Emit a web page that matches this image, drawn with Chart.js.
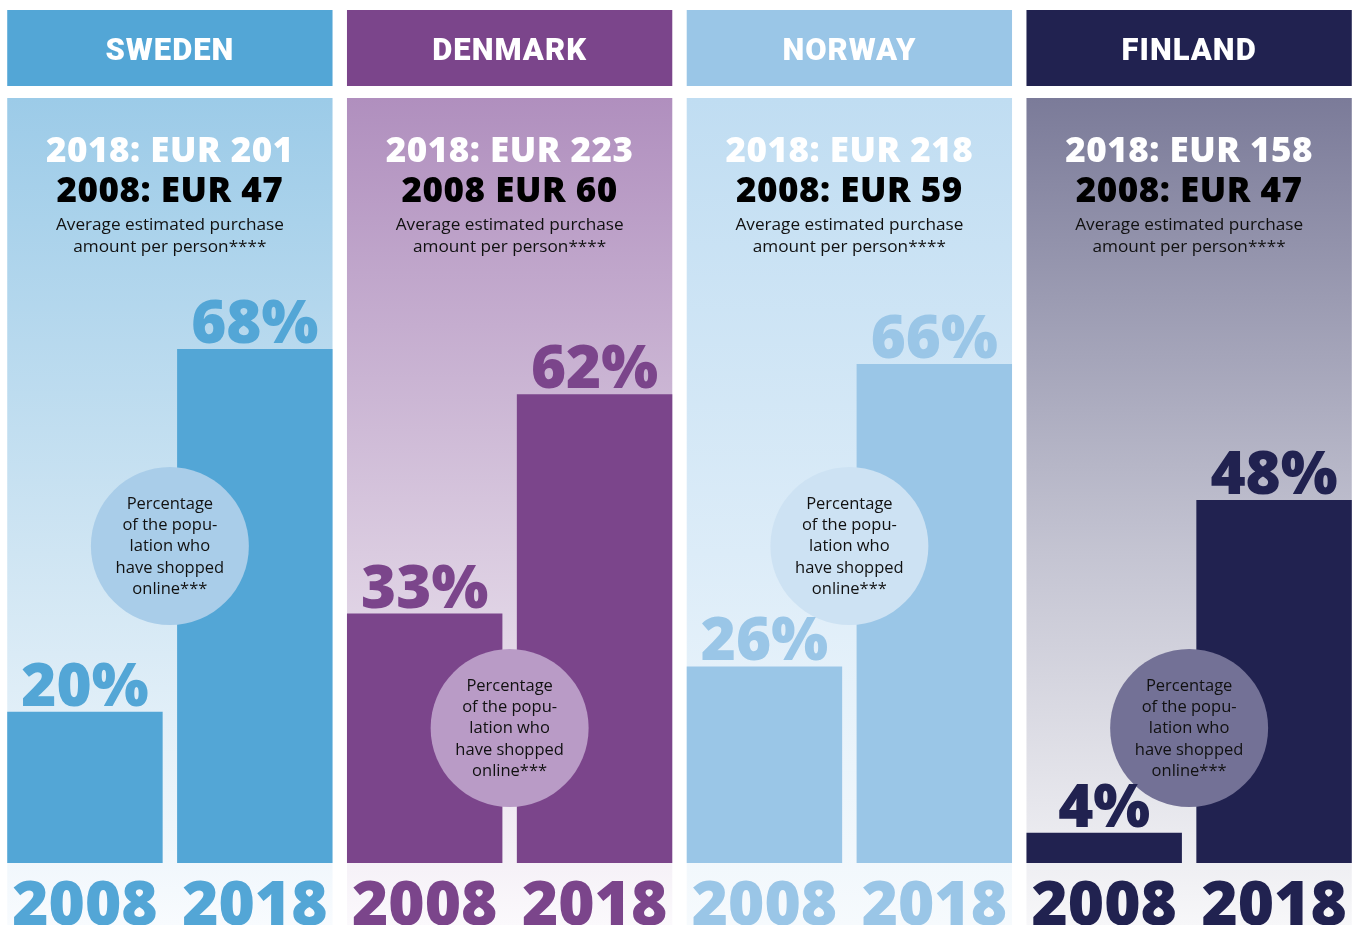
<!DOCTYPE html>
<html>
<head>
<meta charset="utf-8">
<script src="https://cdn.jsdelivr.net/npm/chart.js@4"></script>
<style>
  html, body { margin: 0; padding: 0; background: #ffffff; }
  #wrap { width: 1359px; height: 925px; position: relative; }
</style>
</head>
<body>
<div id="wrap"><canvas id="shopChart"></canvas></div>
<script>
const countries = ['SWEDEN', 'DENMARK', 'NORWAY', 'FINLAND'];
const years = ['2008', '2018'];
const shopped2008 = [20, 33, 26, 4];   // % of population who have shopped online
const shopped2018 = [68, 62, 66, 48];
const spend2018 = [201, 223, 218, 158]; // EUR per person
const spend2008 = [47, 60, 59, 47];
const spend2008Sep = [': ', ' ', ': ', ': '];  // Denmark line has no colon in the original

// colours per country
const barColors = ['#53a6d6', '#7b458b', '#9ac6e7', '#212250'];
const bgTop = ['#9ccbe8', '#b08fbe', '#c0ddf2', '#7b7b99'];
const bgMid = ['#cfe5f3', '#dacbe0', '#dcecf8', '#c4c4d2'];
const bgBottom = ['#f8fbfe', '#fbf9fc', '#f6fafd', '#f7f7f9'];
const bubbleColors = ['#a9cde9', '#b99bc6', '#cde2f3', '#737196'];

const bubbleLines = ['Percentage', 'of the popu-', 'lation who', 'have shopped', 'online***'];

const labels = countries.flatMap(() => years);
const values = countries.flatMap((c, i) => [shopped2008[i], shopped2018[i]]);
const colorFor = idx => barColors[Math.floor(idx / 2)];

const panelPlugin = {
    id: 'panels',
    beforeDraw(chart) {
        const ctx = chart.ctx;
        const bars = chart.getDatasetMeta(0).data;
        countries.forEach((name, i) => {
            const a = bars[i * 2], b = bars[i * 2 + 1];
            const left = a.x - a.width / 2;
            const right = b.x + b.width / 2;
            const cx = (left + right) / 2;

            // header block
            ctx.fillStyle = barColors[i];
            ctx.fillRect(left, 10, right - left, 76);
            ctx.fillStyle = '#ffffff';
            ctx.font = '900 31px Roboto';
            ctx.textAlign = 'center';
            ctx.textBaseline = 'alphabetic';
            ctx.letterSpacing = '1px';
            ctx.fillText(name, cx, 60);
            ctx.letterSpacing = '0px';

            // gradient background
            const g = ctx.createLinearGradient(0, 98, 0, 925);
            g.addColorStop(0, bgTop[i]);
            g.addColorStop(0.55, bgMid[i]);
            g.addColorStop(1, bgBottom[i]);
            ctx.fillStyle = g;
            ctx.fillRect(left, 98, right - left, 925 - 98);

            // spending figures
            ctx.font = '800 35px "Open Sans"';
            ctx.letterSpacing = '0.5px';
            ctx.fillStyle = '#ffffff';
            ctx.fillText('2018: EUR ' + spend2018[i], cx, 162);
            ctx.fillStyle = '#000000';
            ctx.fillText('2008' + spend2008Sep[i] + 'EUR ' + spend2008[i], cx, 202);
            ctx.letterSpacing = '0px';
            ctx.font = '17.2px "Open Sans"';
            ctx.fillStyle = '#111111';
            ctx.fillText('Average estimated purchase', cx, 230);
            ctx.fillText('amount per person****', cx, 252);
        });
    },
    afterDatasetsDraw(chart) {
        const ctx = chart.ctx;
        const bars = chart.getDatasetMeta(0).data;
        countries.forEach((name, i) => {
            const a = bars[i * 2], b = bars[i * 2 + 1];
            const cx = (a.x + b.x) / 2;
            const cy = i % 2 === 0 ? 546 : 728;
            ctx.fillStyle = bubbleColors[i];
            ctx.beginPath();
            ctx.arc(cx, cy, 79, 0, Math.PI * 2);
            ctx.fill();
            ctx.fillStyle = '#111111';
            ctx.font = '16.5px "Open Sans"';
            ctx.textAlign = 'center';
            ctx.textBaseline = 'middle';
            bubbleLines.forEach((line, k) => {
                ctx.fillText(line, cx, cy - 42 + k * 21.3);
            });
        });
        // percentage labels above bars
        ctx.font = '800 60px "Open Sans"';
        ctx.textAlign = 'center';
        ctx.textBaseline = 'alphabetic';
        bars.forEach((bar, idx) => {
            ctx.fillStyle = colorFor(idx);
            ctx.fillText(values[idx] + '%', bar.x, bar.y - 6);
        });
    }
};

new Chart(document.getElementById('shopChart'), {
    type: 'bar',
    data: {
        labels: labels,
        datasets: [{
            data: values,
            backgroundColor: values.map((v, idx) => colorFor(idx)),
            borderWidth: 0,
            barPercentage: 0.915,
            categoryPercentage: 1
        }]
    },
    options: {
        responsive: true,
        maintainAspectRatio: false,
        animation: false,
        layout: { padding: { top: 107, left: 0, right: 0, bottom: 0 } },
        plugins: {
            legend: { display: false },
            tooltip: { enabled: false }
        },
        scales: {
            x: {
                grid: { display: false },
                border: { display: false },
                ticks: {
                    padding: 5,
                    autoSkip: false,
                    maxRotation: 0,
                    font: { family: 'Open Sans', weight: 800, size: 62, lineHeight: 1 },
                    color: ctx => colorFor(ctx.index)
                },
                afterFit: scale => { scale.height = 62; }
            },
            y: {
                display: false,
                min: 0,
                max: 100
            }
        }
    },
    plugins: [panelPlugin]
});
</script>
</body>
</html>
